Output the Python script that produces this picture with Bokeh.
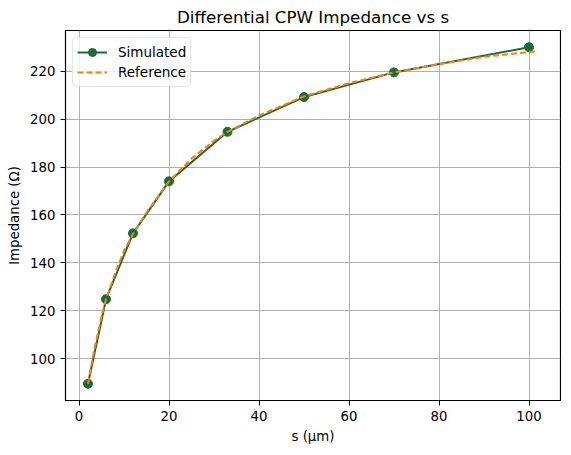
from bokeh.plotting import figure
from bokeh.models import FixedTicker, Range1d
from bokeh.embed import file_html
from bokeh.resources import INLINE

# simulated points
s_sim = [2, 6, 12, 20, 33, 50, 70, 100]
z_sim = [89.5, 124.8, 152.3, 174.0, 194.7, 209.2, 219.5, 230.0]

# reference curve
s_ref = [2, 3, 4, 5, 6, 8, 10, 12, 15, 20, 25, 30, 33, 40, 50, 60, 70, 80, 90, 102]
z_ref = [89.5, 100.0, 109.0, 117.5, 124.8, 135.5, 145.0, 152.0, 161.0, 174.0,
         183.5, 191.0, 194.7, 201.5, 209.5, 215.0, 219.5, 223.0, 226.0, 228.4]

x_ticks = [0, 20, 40, 60, 80, 100]
y_ticks = [100, 120, 140, 160, 180, 200, 220]

FONT = "DejaVu Sans"
GREEN = "#1b6b3a"
ORANGE = "#ff7f0e"

p = figure(frame_width=495, frame_height=370, output_backend="svg", toolbar_location=None,
           title="Differential CPW Impedance vs s",
           x_range=Range1d(-3, 107), y_range=Range1d(82.5, 237),
           x_axis_label="s (µm)", y_axis_label="Impedance (Ω)",
           min_border_left=65, min_border_right=1, min_border_top=30, min_border_bottom=45)

p.title.align = "center"
p.title.text_font = FONT
p.title.text_font_size = "16.7px"
p.title.text_font_style = "normal"
p.title.text_color = "black"
p.title.standoff = 8

p.outline_line_color = "black"
p.outline_line_width = 1.2

for ax in (p.xaxis[0], p.yaxis[0]):
    ax.axis_label_text_font = FONT
    ax.axis_label_text_font_size = "13.3px"
    ax.axis_label_text_font_style = "normal"
    ax.axis_label_text_color = "black"
    ax.major_label_text_font = FONT
    ax.major_label_text_font_size = "13.3px"
    ax.major_label_text_color = "black"
    ax.major_tick_in = 0
    ax.major_tick_out = 5
    ax.minor_tick_line_color = None
    ax.axis_line_color = "black"

p.xaxis.ticker = FixedTicker(ticks=x_ticks)
p.yaxis.ticker = FixedTicker(ticks=y_ticks)

p.grid.grid_line_color = "#b0b0b0"
p.grid.grid_line_width = 1

p.line(s_sim, z_sim, line_color=GREEN, line_width=2, legend_label="Simulated")
p.scatter(s_sim, z_sim, size=9, fill_color=GREEN, line_color=GREEN, legend_label="Simulated")
p.line(s_ref, z_ref, line_color=ORANGE, line_width=2, line_dash="6 3", legend_label="Reference")

p.legend.location = "top_left"
p.legend.label_text_font = FONT
p.legend.label_text_font_size = "13.5px"
p.legend.label_text_color = "black"
p.legend.label_standoff = 11
p.legend.border_line_color = "#d0d0d0"
p.legend.border_radius = 4
p.legend.background_fill_alpha = 0.8
p.legend.margin = 7
p.legend.padding = 4
p.legend.spacing = 0
p.legend.glyph_width = 30

open("out.html", "w").write(file_html(p, INLINE))
